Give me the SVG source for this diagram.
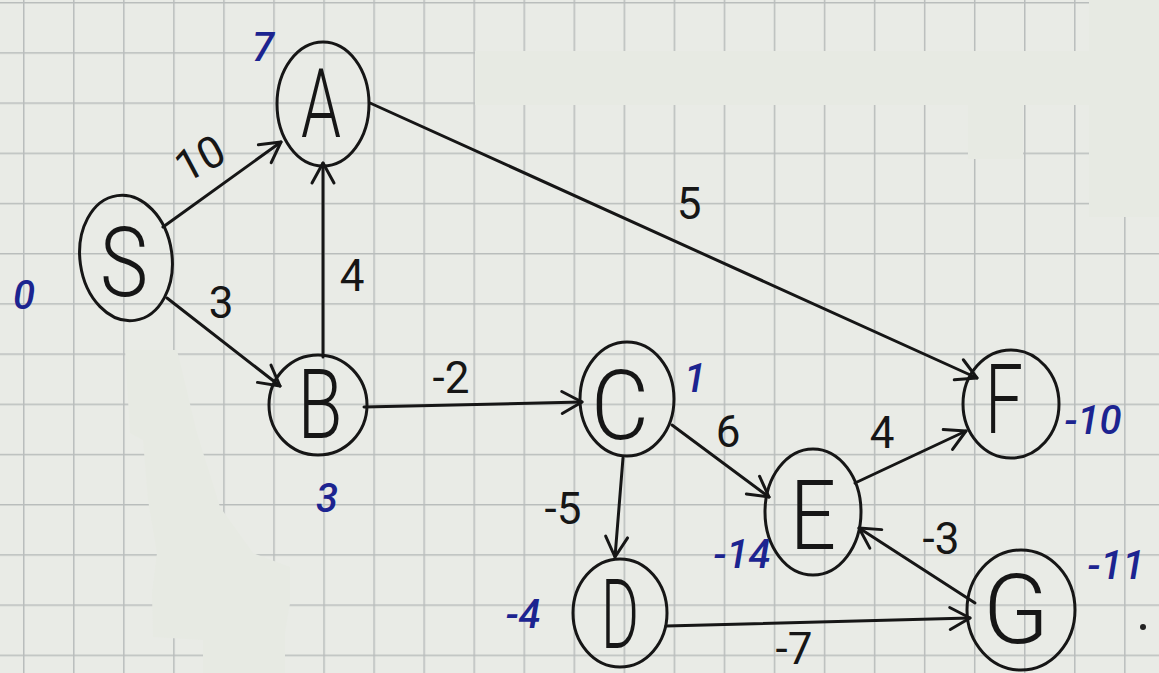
<svg xmlns="http://www.w3.org/2000/svg" width="1159" height="673" viewBox="0 0 1159 673">
<style>
.node{fill:none;stroke:#161616;stroke-width:3}
.edge{fill:none;stroke:#161616;stroke-width:3;stroke-linecap:round;marker-end:url(#arr)}
.nl{font-family:"Roboto","DejaVu Sans",sans-serif;font-weight:300;font-size:96px;fill:#161616;text-anchor:middle}
.el{font-family:"Roboto","DejaVu Sans",sans-serif;font-weight:400;font-size:44px;fill:#161616;text-anchor:middle}
.dl{font-family:"Roboto","DejaVu Sans",sans-serif;font-weight:500;font-style:italic;font-size:40px;fill:#1c2490;text-anchor:middle}
.patch{fill:#e7eae3}
</style>
<defs>
<pattern id="grid" patternUnits="userSpaceOnUse" x="23" y="2" width="50.05" height="50.2">
<path d="M0.7,0 V50.2 M0,0.7 H50.05" stroke="#b9bdbc" stroke-width="1.6" fill="none"/>
</pattern>
<marker id="arr" markerUnits="userSpaceOnUse" markerWidth="40" markerHeight="40" viewBox="-30 -20 40 40" refX="0" refY="0" orient="auto">
<path d="M-20,-11 L0,0 L-20,11" fill="none" stroke="#161616" stroke-width="3" stroke-linecap="round" stroke-linejoin="round"/>
</marker>
</defs>
<rect width="1159" height="673" fill="#e9ebe6"/>
<rect width="1159" height="673" fill="url(#grid)"/>
<g id="patches">
<rect class="patch" x="475" y="51" width="614" height="54"/>
<rect class="patch" x="1089" y="0" width="70" height="217"/>
<rect class="patch" x="968" y="105" width="55" height="54"/>
<polygon class="patch" points="125,350 177,350 197,433 220,507 253,553 290,567 290,603 285,633 285,673 203,673 203,640 153,637 152,593 157,553 148,500 143,440 130,433"/>
</g>
<g id="connectors">
<line class="edge" x1="163" y1="227" x2="281" y2="142"/>
<line class="edge" x1="167" y1="298" x2="280" y2="386"/>
<line class="edge" x1="323" y1="357" x2="323" y2="163"/>
<line class="edge" x1="370" y1="103" x2="977" y2="378"/>
<line class="edge" x1="364" y1="407" x2="582" y2="402"/>
<line class="edge" x1="672" y1="425" x2="769" y2="497"/>
<line class="edge" x1="623" y1="458" x2="615" y2="557"/>
<line class="edge" x1="855" y1="483" x2="966" y2="431"/>
<line class="edge" x1="975" y1="603" x2="859" y2="528"/>
<line class="edge" x1="666" y1="626" x2="970" y2="618"/>
<text class="el" transform="translate(207,172) rotate(-28)">10</text>
<text class="el" x="221" y="318">3</text>
<text class="el" x="352" y="291" font-size="62">4</text>
<text class="el" x="689" y="219" font-size="56">5</text>
<text class="el" x="451" y="393">-2</text>
<text class="el" x="728" y="447">6</text>
<text class="el" x="563" y="524">-5</text>
<text class="el" x="882" y="448">4</text>
<text class="el" x="941" y="554">-3</text>
<text class="el" x="794" y="664" font-size="40">-7</text>
</g>
<g id="S"><ellipse class="node" cx="126" cy="258" rx="46" ry="63" transform="rotate(-8 126 258)"/><text class="nl" x="124" y="296" textLength="48" lengthAdjust="spacingAndGlyphs">S</text><text class="dl" x="24" y="309">0</text></g>
<g id="A"><ellipse class="node" cx="323" cy="104" rx="46" ry="62"/><text class="nl" x="321" y="137" textLength="40" lengthAdjust="spacingAndGlyphs">A</text><text class="dl" x="263" y="61">7</text></g>
<g id="B"><ellipse class="node" cx="318" cy="405" rx="49" ry="50"/><text class="nl" x="320" y="438" textLength="45" lengthAdjust="spacingAndGlyphs" font-size="88">B</text><text class="dl" x="327" y="512">3</text></g>
<g id="C"><ellipse class="node" cx="627" cy="399" rx="47" ry="57"/><text class="nl" x="620" y="439" textLength="58" lengthAdjust="spacingAndGlyphs">C</text><text class="dl" x="695" y="392">1</text></g>
<g id="D"><ellipse class="node" cx="620" cy="613" rx="47" ry="54"/><text class="nl" x="620" y="648" textLength="38" lengthAdjust="spacingAndGlyphs" font-size="90">D</text><text class="dl" x="523" y="628">-4</text></g>
<g id="E"><ellipse class="node" cx="813" cy="512" rx="48" ry="63"/><text class="nl" x="813" y="549" textLength="46" lengthAdjust="spacingAndGlyphs" font-size="86">E</text><text class="dl" x="742" y="568">-14</text></g>
<g id="F"><ellipse class="node" cx="1011" cy="404" rx="48" ry="54"/><text class="nl" x="1004" y="433" textLength="38" lengthAdjust="spacingAndGlyphs" font-size="86">F</text><text class="dl" x="1093" y="434">-10</text></g>
<g id="G"><ellipse class="node" cx="1021" cy="610" rx="54" ry="60"/><text class="nl" x="1016" y="643" textLength="66" lengthAdjust="spacingAndGlyphs" font-size="86">G</text><text class="dl" x="1116" y="579">-11</text></g>
<circle cx="1143" cy="627" r="3" fill="#222"/>
</svg>
